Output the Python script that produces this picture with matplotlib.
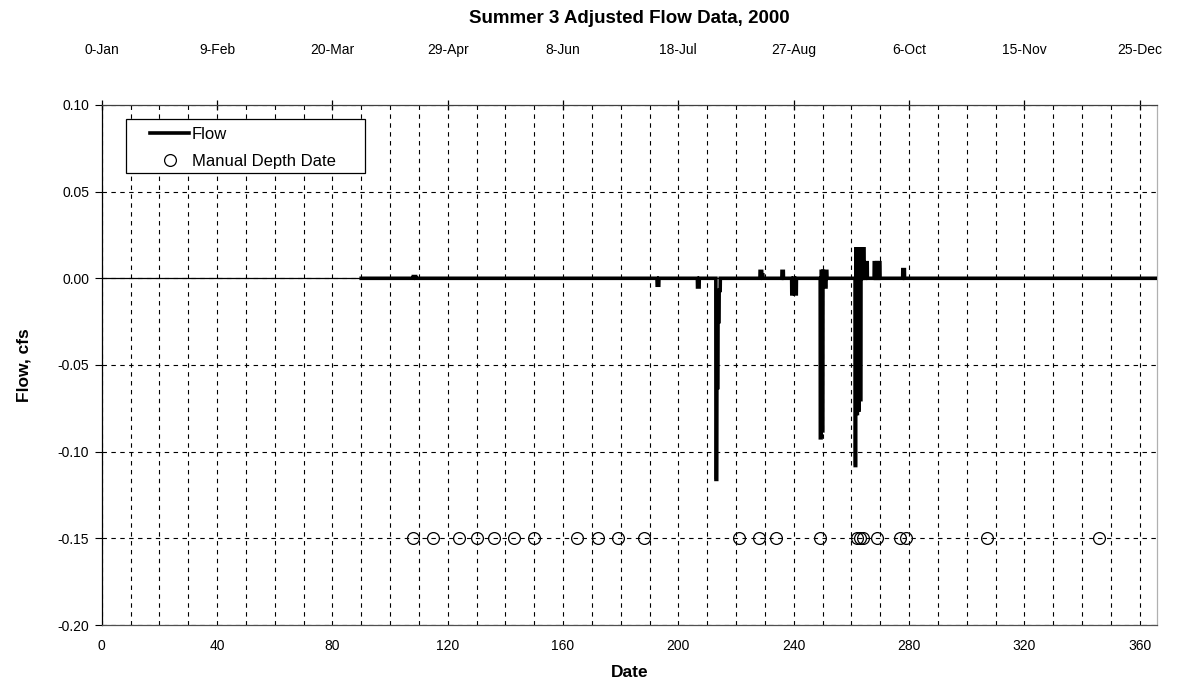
import matplotlib.pyplot as plt
from matplotlib.patches import Rectangle
from matplotlib.ticker import MultipleLocator, FixedLocator

plt.rcParams['font.family'] = ['Liberation Sans', 'DejaVu Sans']

# flow record (day of year, cfs) - flat at zero with the storm spikes
flow_day = [90.0, 108.0, 108.05, 108.9, 108.95,
            192.6, 192.65, 193.2, 193.25,
            206.6, 206.65, 207.2, 207.25,
            213.0, 213.05, 213.3, 213.35, 213.7, 213.75, 214.1, 214.15, 214.5, 214.55,
            228.3, 228.35, 228.9, 228.95, 229.3, 229.35,
            235.9, 235.95, 236.4, 236.45,
            239.3, 239.35, 239.8, 239.85, 240.3, 240.35, 240.9, 240.95,
            249.2, 249.25, 249.5, 249.55, 249.8, 249.85, 250.1, 250.15, 250.3, 250.35,
            250.9, 250.95, 251.2, 251.25, 251.5, 251.55,
            261.3, 261.35, 261.5, 261.55, 261.8, 261.85, 262.1, 262.15, 262.4, 262.45,
            262.7, 262.75, 263.0, 263.05, 263.3, 263.35, 263.6, 263.65, 264.0, 264.05,
            264.4, 264.45,
            264.9, 264.95, 265.5, 265.55,
            267.9, 267.95, 268.3, 268.35, 268.7, 268.75, 269.1, 269.15, 269.5, 269.55,
            269.9, 269.95,
            277.8, 277.85, 278.4, 278.45,
            366.0]
flow_cfs = [0.0, 0.0, 0.001, 0.001, 0.0,
            0.0, -0.004, -0.004, 0.0,
            0.0, -0.005, -0.005, 0.0,
            0.0, -0.116, -0.116, -0.063, -0.063, -0.025, -0.025, -0.007, -0.007, 0.0,
            0.0, 0.004, 0.004, 0.002, 0.002, 0.0,
            0.0, 0.004, 0.004, 0.0,
            0.0, -0.009, -0.009, 0.0, 0.0, -0.009, -0.009, 0.0,
            0.0, -0.092, -0.092, 0.004, 0.004, -0.088, -0.088, 0.004, 0.004, 0.0,
            0.0, -0.005, -0.005, 0.004, 0.004, 0.0,
            0.0, -0.108, -0.108, 0.017, 0.017, -0.078, -0.078, 0.017, 0.017, -0.076,
            -0.076, 0.017, 0.017, -0.07, -0.07, 0.017, 0.017, 0.0, 0.0, 0.017,
            0.017, 0.0,
            0.0, 0.009, 0.009, 0.0,
            0.0, 0.009, 0.009, 0.0, 0.0, 0.009, 0.009, 0.0, 0.0, 0.009,
            0.009, 0.0,
            0.0, 0.005, 0.005, 0.0,
            0.0]

# days when depth was measured by hand
manual_day = [108, 115, 124, 130, 136, 143, 150, 165, 172, 179, 188,
              221, 228, 234, 249, 262, 263, 264, 269, 277, 279, 307, 346]
manual_cfs = [-0.15] * len(manual_day)

top_ticks = [0, 40, 80, 120, 160, 200, 240, 280, 320, 360]
top_labels = ['0-Jan', '9-Feb', '20-Mar', '29-Apr', '8-Jun', '18-Jul',
              '27-Aug', '6-Oct', '15-Nov', '25-Dec']

fig = plt.figure(figsize=(11.79, 6.95), dpi=100)
ax = fig.add_axes([0.0863, 0.1007, 0.8950, 0.7483])

ax.set_xlim(0, 366)
ax.set_ylim(-0.20, 0.10)

# dashed grid every 10 days and every 0.05 cfs
ax.xaxis.set_minor_locator(MultipleLocator(10))
ax.xaxis.set_major_locator(MultipleLocator(40))
ax.yaxis.set_major_locator(MultipleLocator(0.05))
ax.grid(True, which='both', axis='x', color='black', linestyle=(0, (4, 4)), linewidth=0.8)
ax.grid(True, which='major', axis='y', color='black', linestyle=(0, (4, 4)), linewidth=0.8)
ax.set_axisbelow(True)
ax.axhline(0, color='black', linewidth=0.9, zorder=1.5)

ln_flow, = ax.plot(flow_day, flow_cfs, color='black', linewidth=2.6,
                   solid_joinstyle='miter', label='Flow', zorder=3)
ln_manual, = ax.plot(manual_day, manual_cfs, linestyle='none', marker='o', markersize=8.5,
                     markerfacecolor='none', markeredgecolor='black', markeredgewidth=0.9,
                     label='Manual Depth Date', zorder=4)

ax.tick_params(axis='x', which='both', length=0, labelsize=10, pad=10)
ax.tick_params(axis='y', which='major', direction='out', length=5, width=0.8,
               labelsize=10, pad=4)
ax.yaxis.set_major_formatter(plt.FuncFormatter(lambda v, p: f'{v:.2f}'.replace('-0.00', '0.00')))

ax.spines['left'].set_color('black')
ax.spines['top'].set_color('#404040')
ax.spines['bottom'].set_color('#505050')
ax.spines['right'].set_color('#b0b0b0')
for s in ax.spines.values():
    s.set_linewidth(0.9)

# calendar dates along the top
top = ax.secondary_xaxis('top')
top.xaxis.set_major_locator(FixedLocator(top_ticks))
top.set_xticklabels(top_labels)
top.tick_params(axis='x', direction='inout', length=7, width=0.9, labelsize=10, pad=31)
top.spines['top'].set_visible(False)

ax.set_xlabel('Date', fontsize=12.5, fontweight='bold', labelpad=9)
ax.set_ylabel('Flow, cfs', fontsize=12.5, fontweight='bold', labelpad=19)
fig.suptitle('Summer 3 Adjusted Flow Data, 2000', x=0.534, y=0.986,
             fontsize=13.5, fontweight='bold')

# legend box drawn separately so the entries sit with room around them
ax.add_patch(Rectangle((0.0230, 0.8692), 0.2265, 0.1038, transform=ax.transAxes,
                       facecolor='white', edgecolor='black', linewidth=0.9, zorder=5))
leg = ax.legend(handles=[ln_flow, ln_manual], loc='upper left',
                bbox_to_anchor=(0.0458, 0.9575), borderaxespad=0, borderpad=0,
                fontsize=12, frameon=False, handlelength=2.35, handletextpad=0.15,
                labelspacing=0.72)
leg.set_zorder(6)

fig.savefig('out.png', dpi=100)
